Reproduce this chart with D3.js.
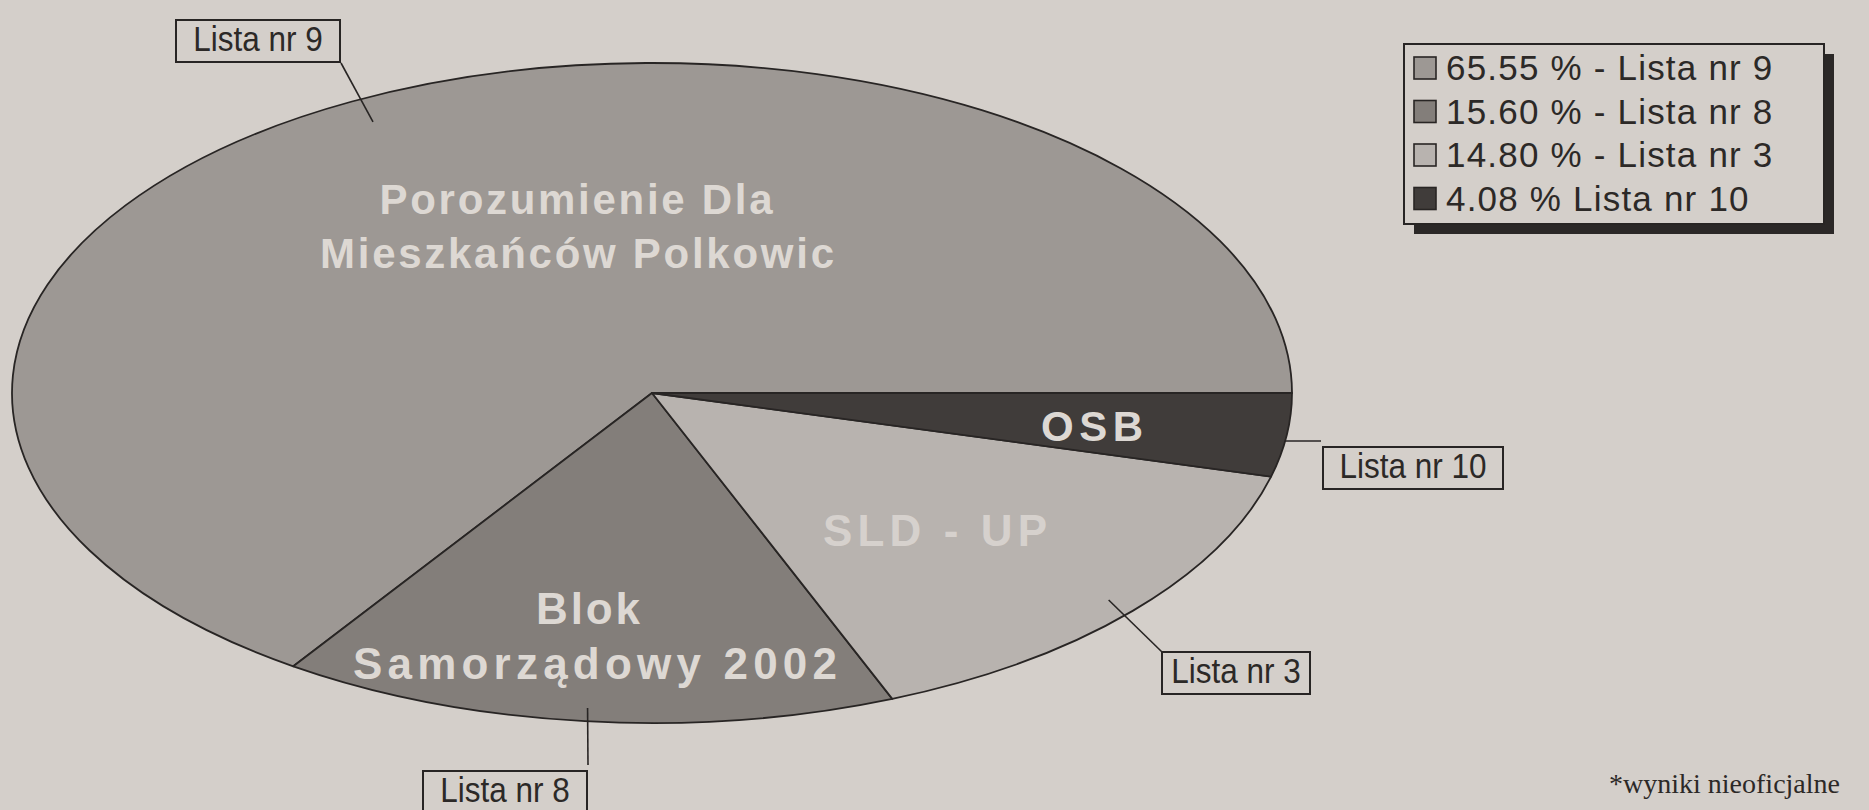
<!DOCTYPE html>
<html lang="pl">
  <head>
    <meta charset="utf-8">
    <title>Wyniki - Polkowice</title>
    <script src="https://d3js.org/d3.v7.js"></script>
    <style>
      body { margin: 0; background: #d4cfca; }
    </style>
  </head>

  <body>

  <script>

// data (legend order)
  var lists = ["Lista nr 9", "Lista nr 8", "Lista nr 3", "Lista nr 10"];
  var shares = [65.55, 15.60, 14.80, 4.08];
  var legendText = ["65.55 % - Lista nr 9", "15.60 % - Lista nr 8", "14.80 % - Lista nr 3", "4.08 % Lista nr 10"];
  var sliceNames = [["Porozumienie Dla", "Mieszkańców Polkowic"], ["Blok", "Samorządowy 2002"], ["SLD - UP"], ["OSB"]];
  var footnote = "*wyniki nieoficjalne";

// look
  var colors = ["#9d9894", "#837e7a", "#b8b3af", "#403c3a"];
  var ink = "#282524";
  var paper = "#d4cfca";

  var w = 1869;
  var h = 810;
  var cx = 652, cy = 393, rx = 640, ry = 330;

// text inside slices: [x, baseline, width] per line, and font size per slice
  var nameLayout = [
    [[576, 214, 393], [577, 268, 514]],
    [[588, 624, 104], [595, 679, 484]],
    [[935, 546, 224]],
    [[1092, 441, 102]]
  ];
  var nameSize = [42, 44, 44, 42];

// callout boxes: box x, y, width, leader end x, y, inner radius fraction of leader
  var callouts = [
    {box: [176, 20, 164], end: [341, 63], inner: 0.93},
    {box: [423, 771, 164], end: [588, 765], inner: 0.96},
    {box: [1162, 652, 148], end: [1162, 652], inner: 0.95},
    {box: [1323, 447, 180], end: [1321, 441], inner: 1.0}
  ];
  var boxH = 42;

  var svg = d3.select("body")
    .append("svg")
      .attr("width", w)
      .attr("height", h);

  svg.append("rect")
      .attr("width", w)
      .attr("height", h)
      .attr("fill", paper);

  // pie runs counter-clockwise from 3 o'clock, so the smallest slice ends up just under the horizontal
  var pie = d3.pie()
      .sort(null)
      .startAngle(Math.PI / 2 + 2 * Math.PI)
      .endAngle(Math.PI / 2);

  var arcs = pie(shares);

  var arc = d3.arc()
      .innerRadius(0)
      .outerRadius(rx);

  var color = d3.scaleOrdinal()
      .domain(lists)
      .range(colors);

  var pieG = svg.append("g")
      .attr("transform", "translate(" + cx + "," + cy + ") scale(1," + (ry / rx) + ")");

  pieG.selectAll("path")
      .data(arcs)
      .enter().append("path")
      .attr("d", arc)
      .attr("fill", (d, i) => color(lists[i]))
      .attr("stroke", ink)
      .attr("stroke-width", 1.8)
      .attr("stroke-linejoin", "round")
      .attr("vector-effect", "non-scaling-stroke");

  function onEllipse(a, f) {
    return [cx + Math.sin(a) * rx * f, cy - Math.cos(a) * ry * f];
  }

// names inside the slices
  arcs.forEach(function(d, i) {
    sliceNames[i].forEach(function(line, j) {
      var p = nameLayout[i][j];
      svg.append("text")
          .attr("x", p[0])
          .attr("y", p[1])
          .attr("text-anchor", "middle")
          .attr("textLength", p[2])
          .attr("lengthAdjust", "spacing")
          .attr("font-family", "'Liberation Sans', Arial, sans-serif")
          .attr("font-weight", "bold")
          .attr("font-size", nameSize[i])
          .attr("fill", i == 2 ? "#d6d1cd" : "#ddd8d3")
          .text(line);
    });
  });

// callouts with leader lines
  arcs.forEach(function(d, i) {
    var c = callouts[i];
    var mid = (d.startAngle + d.endAngle) / 2;
    var p0 = onEllipse(mid, c.inner);
    if (i == 3) {
      // the small slice gets a flat leader starting on the rim
      var t = (c.end[1] - cy) / ry;
      p0 = [cx + rx * Math.sqrt(1 - t * t), c.end[1]];
    }
    svg.append("line")
        .attr("x1", p0[0])
        .attr("y1", p0[1])
        .attr("x2", c.end[0])
        .attr("y2", c.end[1])
        .attr("stroke", ink)
        .attr("stroke-width", 1.6);

    svg.append("rect")
        .attr("x", c.box[0])
        .attr("y", c.box[1])
        .attr("width", c.box[2])
        .attr("height", boxH)
        .attr("fill", paper)
        .attr("stroke", ink)
        .attr("stroke-width", 2);

    svg.append("text")
        .attr("transform", "translate(" + (c.box[0] + c.box[2] / 2) + "," + (c.box[1] + 31) + ") scale(0.9,1)")
        .attr("text-anchor", "middle")
        .attr("font-family", "'Liberation Sans Narrow', 'Liberation Sans', Arial, sans-serif")
        .attr("font-size", 35)
        .attr("fill", "#2c2927")
        .text(lists[i]);
  });

// legend
  var lx = 1404, ly = 44, lw = 420, lh = 180;

  svg.append("rect")
      .attr("x", lx + 10)
      .attr("y", ly + 10)
      .attr("width", lw)
      .attr("height", lh)
      .attr("fill", "#2b2827");

  svg.append("rect")
      .attr("x", lx)
      .attr("y", ly)
      .attr("width", lw)
      .attr("height", lh)
      .attr("fill", paper)
      .attr("stroke", ink)
      .attr("stroke-width", 2);

  var rowY = d3.scaleBand()
      .domain(d3.range(lists.length))
      .range([ly + 2, ly + lh - 4]);

  var rows = svg.selectAll(".legend-row")
      .data(legendText)
      .enter().append("g")
      .attr("class", "legend-row")
      .attr("transform", (d, i) => "translate(" + lx + "," + rowY(i) + ")");

  rows.append("rect")
      .attr("x", 10)
      .attr("y", 11)
      .attr("width", 22)
      .attr("height", 22)
      .attr("fill", (d, i) => color(lists[i]))
      .attr("stroke", ink)
      .attr("stroke-width", 1.6);

  rows.append("text")
      .attr("x", 42)
      .attr("y", 34)
      .attr("font-family", "'Liberation Sans', Arial, sans-serif")
      .attr("font-size", 35)
      .attr("letter-spacing", 1.2)
      .attr("fill", "#2c2927")
      .text(d => d);

// footnote
  svg.append("text")
      .attr("x", 1840)
      .attr("y", 793)
      .attr("text-anchor", "end")
      .attr("font-family", "'Liberation Serif', 'Times New Roman', serif")
      .attr("font-size", 28)
      .attr("fill", "#2c2927")
      .text(footnote);

    </script>

  </body>

</html>
